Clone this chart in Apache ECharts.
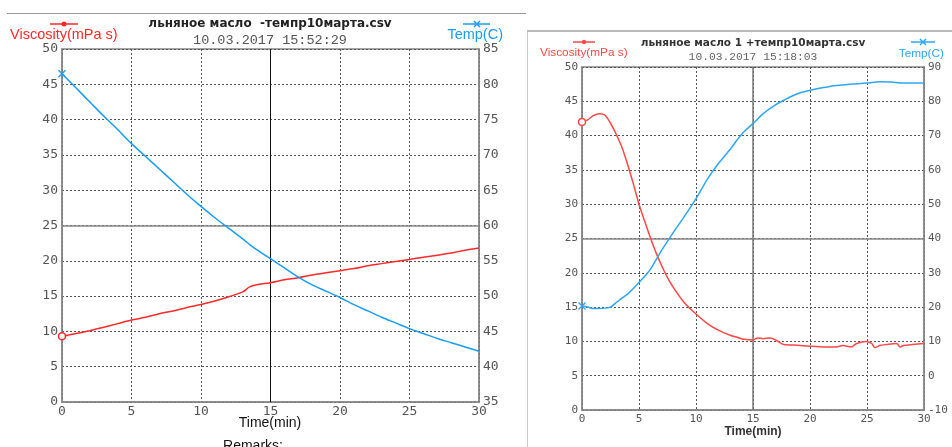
<!DOCTYPE html>
<html>
<head>
<meta charset="utf-8">
<script src="https://cdn.jsdelivr.net/npm/echarts@6/dist/echarts.min.js"></script>
<style>html,body{margin:0;padding:0;background:#fff;}#c{width:952px;height:447px;}</style>
</head>
<body>
<div id="c"></div>
<script>
// ---- Left chart data ----
const titleL = 'льняное масло  -темпр10марта.csv';
const dateL = '10.03.2017 15:52:29';
const timeL = [0,1,2,3,4,5,6,7,8,9,10,11,12,13,13.5,14,15,16,17,18,19,20,21,22,23,24,25,26,27,28,29,30];
const viscL = [9.3,9.7,10.1,10.6,11.1,11.6,12.0,12.5,12.9,13.4,13.8,14.3,14.9,15.6,16.3,16.6,16.9,17.3,17.6,18.0,18.3,18.6,18.9,19.3,19.6,19.9,20.2,20.5,20.8,21.1,21.5,21.8];
const tempL = [81.5,79.5,77.5,75.5,73.6,71.6,69.8,68.0,66.2,64.4,62.7,61.1,59.6,58.1,57.3,56.6,55.3,54.0,52.7,51.6,50.7,49.8,48.8,47.9,47.0,46.2,45.4,44.7,44.0,43.4,42.8,42.2];

// ---- Right chart data ----
const titleR = 'льняное масло 1 +темпр10марта.csv';
const dateR = '10.03.2017 15:18:03';
const timeRV = [0,0.5,1,1.5,2,2.5,3,3.5,4,4.5,5,5.5,6,6.5,7,7.5,8,9,10,11,12,13,13.6,14.2,15,15.4,15.9,16.5,17.1,17.7,18.9,20,21.2,22.3,22.9,23.6,24.1,24.9,25.4,25.7,26.1,26.7,27.6,27.9,28.2,29,30];
const viscR = [42.0,42.3,42.9,43.2,43.0,41.8,40.2,38.3,35.8,33.0,30.0,27.5,25.1,22.9,21.0,19.3,17.9,15.6,14.0,12.6,11.6,10.9,10.6,10.3,10.2,10.5,10.4,10.5,10.1,9.55,9.45,9.3,9.2,9.2,9.4,9.2,9.7,10.0,9.7,9.1,9.4,9.55,9.7,9.2,9.4,9.55,9.7];
const timeRT = [0,0.5,1,1.5,2,2.5,3,3.5,4,4.5,5,5.5,6,7,8,9,10,11,12,13,13.6,14.2,15,15.9,16.8,17.7,18.9,20,21.2,22.3,23.5,25,26.1,27.2,27.9,30];
const tempR = [20.3,20.0,19.6,19.6,19.7,20.0,21.3,22.6,23.8,25.4,27.2,29.0,31.0,36.6,41.7,46.5,51.6,57.3,62.0,66.0,68.7,71.1,73.5,76.4,78.6,80.3,82.2,83.2,84.0,84.6,85.0,85.3,85.7,85.6,85.35,85.35];

// ---- Axis ticks ----
const timeTicks = {min: 0, max: 30, interval: 5};
const viscTicks = {min: 0, max: 50, interval: 5};
const tempTicksL = {min: 35, max: 85, interval: 5};
const tempTicksR = {min: -10, max: 90, interval: 10};

const RED = '#ff2a2a', BLUE = '#1a9cf5';
const RED2 = '#ff4848', BLUE2 = '#2fa6f2';
const XPATH = 'path://M0,1.2L1.2,0L5,3.8L8.8,0L10,1.2L6.2,5L10,8.8L8.8,10L5,6.2L1.2,10L0,8.8L3.8,5Z';
const MONO = '"DejaVu Sans Mono", "Liberation Mono", monospace';
const MONO2 = '"Liberation Mono", "DejaVu Sans Mono", monospace';
const SANS = '"Liberation Sans", Arial, sans-serif';

function pairs(t, v, firstSym, col) {
  return t.map((x, i) => {
    if (i === 0) {
      if (firstSym === 'circle') return {value: [x, v[i]], symbol: 'circle', symbolSize: 7, itemStyle: {color: '#fff', borderColor: col, borderWidth: 1.5}};
      return {value: [x, v[i]], symbol: XPATH, symbolSize: 8, itemStyle: {color: col}};
    }
    return [x, v[i]];
  });
}

function xAx(gi, fs, lblMargin, axisCol) {
  return Object.assign({type: 'value', gridIndex: gi,
    axisLine: {show: true, onZero: false, lineStyle: {color: axisCol, width: 1.5}},
    axisTick: {show: false},
    axisLabel: {fontFamily: MONO, fontSize: fs, color: '#555', margin: lblMargin},
    splitLine: {show: true, lineStyle: {color: '#555', type: [2, 2], width: 1}}
  }, timeTicks);
}
function yAx(gi, ticks, pos, fs, split, axisCol) {
  return Object.assign({type: 'value', gridIndex: gi, position: pos,
    axisLine: {show: true, lineStyle: {color: axisCol, width: 1.5}},
    axisTick: {show: false},
    axisLabel: {fontFamily: MONO, fontSize: fs, color: '#555', margin: 4},
    splitLine: {show: split, lineStyle: {color: '#555', type: [2, 2], width: 1}}
  }, ticks);
}

function xMark(cx, cy, col) {
  return [
    {type: 'line', shape: {x1: cx - 3, y1: cy - 3, x2: cx + 3, y2: cy + 3}, style: {stroke: col, lineWidth: 1.5}},
    {type: 'line', shape: {x1: cx + 3, y1: cy - 3, x2: cx - 3, y2: cy + 3}, style: {stroke: col, lineWidth: 1.5}}
  ];
}

const chart = echarts.init(document.getElementById('c'));
const option = {
  animation: false,
  backgroundColor: '#fff',
  grid: [
    {left: 62, top: 49, width: 417, height: 353, show: true, borderColor: '#888', borderWidth: 1.5},
    {left: 582, top: 67, width: 342, height: 343, show: true, borderColor: '#888', borderWidth: 1.5}
  ],
  xAxis: [xAx(0, 13, 3, '#888'), xAx(1, 11, 4, '#888')],
  yAxis: [
    yAx(0, viscTicks, 'left', 13, true, '#888'),
    yAx(0, tempTicksL, 'right', 13, false, '#888'),
    yAx(1, viscTicks, 'left', 11, true, '#888'),
    yAx(1, tempTicksR, 'right', 11, false, '#888')
  ],
  series: [
    {type: 'line', xAxisIndex: 0, yAxisIndex: 0, data: pairs(timeL, viscL, 'circle', RED), symbol: 'none', showSymbol: true, smooth: 0.3,
      lineStyle: {color: RED, width: 1.5}, itemStyle: {color: RED}, z: 5,
      markLine: {silent: true, symbol: 'none', label: {show: false}, animation: false,
        data: [{yAxis: 25, lineStyle: {color: '#888', type: 'solid', width: 1.5}}, {xAxis: 15, lineStyle: {color: '#111', type: 'solid', width: 1}}]}},
    {type: 'line', xAxisIndex: 0, yAxisIndex: 1, data: pairs(timeL, tempL, 'x', BLUE), symbol: 'none', showSymbol: true, smooth: 0.3,
      lineStyle: {color: BLUE, width: 1.5}, itemStyle: {color: BLUE}, z: 5},
    {type: 'line', xAxisIndex: 1, yAxisIndex: 2, data: pairs(timeRV, viscR, 'circle', RED2), symbol: 'none', showSymbol: true, smooth: 0.3,
      lineStyle: {color: RED2, width: 1.5}, itemStyle: {color: RED2}, z: 5,
      markLine: {silent: true, symbol: 'none', label: {show: false}, animation: false,
        data: [{yAxis: 25, lineStyle: {color: '#888', type: 'solid', width: 1.5}}, {xAxis: 15, lineStyle: {color: '#777', type: 'solid', width: 1.5}}]}},
    {type: 'line', xAxisIndex: 1, yAxisIndex: 3, data: pairs(timeRT, tempR, 'x', BLUE2), symbol: 'none', showSymbol: true, smooth: 0.3,
      lineStyle: {color: BLUE2, width: 1.5}, itemStyle: {color: BLUE2}, z: 5}
  ],
  graphic: [
    // frame lines
    {type: 'line', shape: {x1: 7, y1: 13.5, x2: 526, y2: 13.5}, style: {stroke: '#999', lineWidth: 1}},
    {type: 'line', shape: {x1: 527.5, y1: 30, x2: 527.5, y2: 447}, style: {stroke: '#ccc', lineWidth: 1}},
    {type: 'line', shape: {x1: 527, y1: 31, x2: 952, y2: 31}, style: {stroke: '#bbb', lineWidth: 2}},
    // left legend
    {type: 'line', shape: {x1: 50, y1: 24, x2: 78, y2: 24}, style: {stroke: RED, lineWidth: 1.5}},
    {type: 'circle', shape: {cx: 64, cy: 24, r: 2.5}, style: {fill: RED}},
    {type: 'line', shape: {x1: 463, y1: 24, x2: 490, y2: 24}, style: {stroke: BLUE, lineWidth: 1.5}},
    ...xMark(477, 24, BLUE),
    {type: 'text', x: 270, y: 24, style: {text: titleL, font: 'bold 12px "DejaVu Sans", sans-serif', fill: '#222', align: 'center', verticalAlign: 'middle'}},
    {type: 'text', x: 270, y: 40, style: {text: dateL, font: '13.5px ' + MONO2, fill: '#555', align: 'center', verticalAlign: 'middle'}},
    {type: 'text', x: 10, y: 35, style: {text: 'Viscosity(mPa s)', font: '14.5px ' + SANS, fill: RED, align: 'left', verticalAlign: 'middle'}},
    {type: 'text', x: 503, y: 35, style: {text: 'Temp(C)', font: '14.5px ' + SANS, fill: BLUE, align: 'right', verticalAlign: 'middle'}},
    {type: 'text', x: 270, y: 423, style: {text: 'Time(min)', font: '14px ' + SANS, fill: '#111', align: 'center', verticalAlign: 'middle'}},
    {type: 'text', x: 253, y: 446, style: {text: 'Remarks:', font: '14px ' + SANS, fill: '#111', align: 'center', verticalAlign: 'middle'}},
    // right legend
    {type: 'line', shape: {x1: 573, y1: 42, x2: 595, y2: 42}, style: {stroke: RED2, lineWidth: 1.5}},
    {type: 'circle', shape: {cx: 584, cy: 42, r: 2.2}, style: {fill: RED2}},
    {type: 'line', shape: {x1: 911, y1: 42, x2: 935, y2: 42}, style: {stroke: BLUE2, lineWidth: 1.5}},
    ...xMark(923, 42, BLUE2),
    {type: 'text', x: 753, y: 43, style: {text: titleR, font: 'bold 10.5px "DejaVu Sans", sans-serif', fill: '#333', align: 'center', verticalAlign: 'middle'}},
    {type: 'text', x: 753, y: 57, style: {text: dateR, font: '11.3px ' + MONO2, fill: '#666', align: 'center', verticalAlign: 'middle'}},
    {type: 'text', x: 540, y: 53, style: {text: 'Viscosity(mPa s)', font: '11.8px ' + SANS, fill: RED2, align: 'left', verticalAlign: 'middle'}},
    {type: 'text', x: 944, y: 54, style: {text: 'Temp(C)', font: '11.8px ' + SANS, fill: BLUE2, align: 'right', verticalAlign: 'middle'}},
    {type: 'text', x: 753, y: 432, style: {text: 'Time(min)', font: 'bold 12px ' + SANS, fill: '#333', align: 'center', verticalAlign: 'middle'}}
  ]
};
chart.setOption(option);
</script>
</body>
</html>
